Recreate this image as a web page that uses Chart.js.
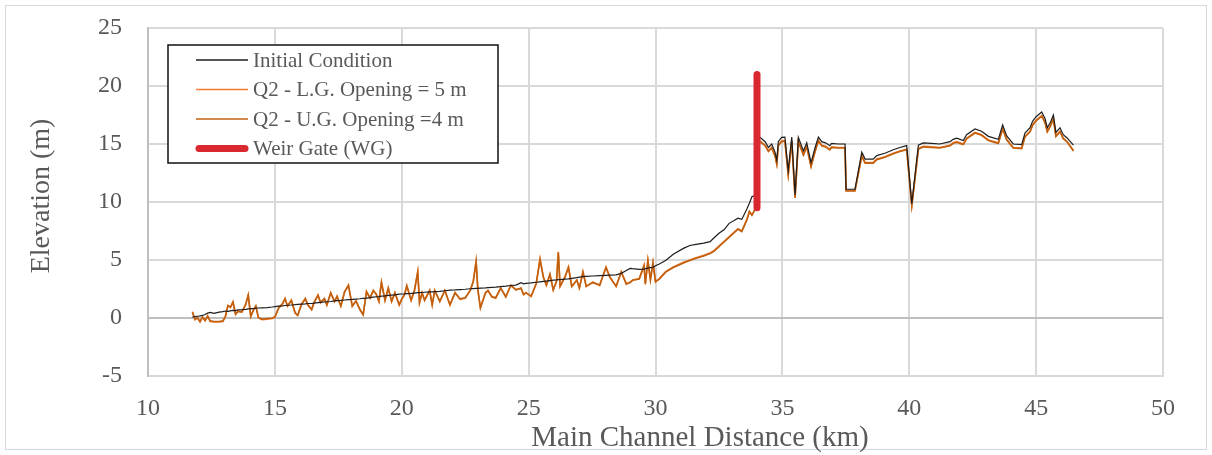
<!DOCTYPE html>
<html><head><meta charset="utf-8">
<script src="https://cdn.jsdelivr.net/npm/chart.js@4.4.1/dist/chart.umd.min.js"></script>
<style>html,body{margin:0;padding:0;background:#fff;} canvas{display:block;}</style>
</head><body>
<canvas id="c" width="1212" height="455"></canvas>
<script>
const distanceKm = [
11.75,11.85,11.95,12.05,12.15,12.25,12.35,12.45,12.6,12.8,
12.95,13.05,13.15,13.25,13.35,13.45,13.55,13.7,13.85,13.95,
14.05,14.15,14.25,14.35,14.5,14.7,14.9,15.0,15.15,15.3,
15.4,15.5,15.65,15.8,15.9,16.05,16.2,16.3,16.45,16.55,
16.7,16.8,16.95,17.05,17.2,17.35,17.45,17.6,17.75,17.9,
18.05,18.2,18.35,18.48,18.61,18.75,18.88,19.0,19.1,19.2,
19.34,19.47,19.6,19.73,19.9,20.0,20.1,20.2,20.37,20.5,
20.63,20.7,20.8,20.9,21.1,21.2,21.3,21.5,21.7,21.9,
22.1,22.3,22.5,22.7,22.82,22.93,23.0,23.1,23.3,23.4,
23.55,23.7,23.9,24.1,24.3,24.5,24.7,24.8,24.9,25.1,
25.3,25.45,25.58,25.7,25.84,25.97,26.1,26.17,26.24,26.43,
26.57,26.7,26.9,27.0,27.14,27.27,27.53,27.8,28.05,28.2,
28.45,28.65,28.85,29.0,29.1,29.36,29.55,29.6,29.7,29.8,
29.9,30.0,30.15,30.4,30.7,31.1,31.35,31.6,31.9,32.15,
32.3,32.5,32.7,32.9,33.1,33.25,33.4,33.6,33.7,33.8,
33.95,34.05,34.12,34.32,34.45,34.58,34.71,34.78,34.84,34.97,
35.1,35.23,35.37,35.5,35.63,35.83,35.96,36.13,36.29,36.42,
36.55,36.7,36.87,36.94,37.2,37.47,37.51,37.86,38.13,38.26,
38.58,38.72,39.04,39.37,39.63,39.9,40.1,40.36,40.55,40.88,
41.2,41.61,41.73,41.87,42.0,42.13,42.26,42.59,42.85,43.12,
43.51,43.68,43.84,44.1,44.43,44.56,44.76,44.86,45.0,45.22,
45.35,45.44,45.57,45.68,45.78,45.94,46.07,46.23,46.47];

const initialCondition = [
0.10,0.12,0.15,0.18,0.22,0.30,0.42,0.48,0.40,0.50,
0.55,0.60,0.58,0.62,0.66,0.64,0.70,0.72,0.75,0.78,
0.80,0.80,0.85,0.86,0.88,0.90,0.95,0.98,1.02,1.05,
1.08,1.10,1.12,1.15,1.18,1.20,1.22,1.25,1.25,1.28,
1.32,1.35,1.38,1.40,1.42,1.48,1.50,1.52,1.55,1.58,
1.60,1.63,1.66,1.70,1.72,1.75,1.80,1.83,1.85,1.88,
1.90,1.95,1.98,2.00,2.05,2.07,2.08,2.10,2.12,2.15,
2.18,2.18,2.20,2.22,2.25,2.26,2.28,2.30,2.35,2.40,
2.42,2.45,2.48,2.52,2.54,2.56,2.55,2.58,2.60,2.62,
2.64,2.66,2.70,2.74,2.80,2.84,3.05,2.95,2.98,3.02,
3.08,3.12,3.15,3.18,3.22,3.26,3.28,3.30,3.30,3.35,
3.38,3.42,3.48,3.52,3.56,3.58,3.62,3.65,3.68,3.70,
3.72,3.85,4.10,4.28,4.25,4.20,4.22,4.25,4.30,4.35,
4.37,4.50,4.65,4.95,5.50,6.00,6.25,6.35,6.45,6.58,
6.90,7.30,7.60,8.16,8.40,8.60,8.50,9.40,9.90,10.46,
10.60,15.40,15.57,15.20,14.70,15.00,14.30,13.60,15.20,15.57,
15.60,12.70,15.60,10.60,15.57,14.40,15.10,13.40,14.70,15.60,
15.20,15.10,14.85,15.05,15.00,15.00,11.10,11.10,14.30,13.70,
13.70,14.00,14.20,14.50,14.70,14.86,9.86,14.90,15.10,15.05,
15.00,15.20,15.40,15.50,15.40,15.30,15.80,16.30,16.10,15.66,
15.40,16.65,15.70,15.00,14.95,15.95,16.40,16.95,17.35,17.76,
17.20,16.40,16.90,17.50,16.00,16.40,15.80,15.50,14.90];

const q2LowerGate = [
0.55,-0.15,0.05,-0.35,0.10,-0.25,0.20,-0.30,-0.35,-0.35,
-0.30,0.10,1.10,0.90,1.40,0.30,0.60,0.50,1.20,2.00,
0.10,0.70,1.00,0.00,-0.15,-0.10,-0.05,0.05,0.90,1.20,
1.70,1.00,1.55,0.40,0.20,1.20,1.70,1.10,0.70,1.40,
2.00,1.30,1.70,1.10,2.20,1.40,1.90,1.00,2.30,2.85,
1.00,1.50,0.70,0.26,2.30,1.70,2.40,2.00,1.40,3.10,
1.50,2.60,1.40,2.20,1.10,1.60,2.00,2.80,1.50,2.40,
4.00,1.30,2.20,1.50,2.40,1.10,2.40,1.40,2.40,1.10,
2.20,1.60,1.70,2.40,3.20,4.90,2.40,0.85,2.20,2.40,
1.80,1.70,2.60,1.80,2.84,2.40,2.60,2.00,2.20,1.84,
3.00,5.10,3.56,2.80,3.80,2.40,3.20,5.70,2.70,3.56,
4.40,2.70,3.27,2.56,4.00,2.70,3.10,2.80,4.40,3.56,
2.70,4.00,2.90,3.10,3.27,3.40,4.57,2.90,5.00,3.27,
4.80,3.10,3.40,4.00,4.40,4.80,5.00,5.20,5.40,5.60,
5.80,6.20,6.60,7.00,7.40,7.70,7.50,8.50,9.20,8.90,
9.50,15.10,15.25,14.90,14.40,14.70,14.00,13.30,14.90,15.25,
15.30,12.40,15.30,10.40,15.25,14.10,14.80,13.10,14.40,15.30,
14.90,14.80,14.55,14.75,14.70,14.70,11.00,11.00,14.00,13.40,
13.40,13.70,13.90,14.20,14.40,14.55,9.70,14.60,14.80,14.75,
14.70,14.90,15.10,15.20,15.10,15.00,15.50,16.00,15.80,15.35,
15.10,16.35,15.40,14.70,14.65,15.65,16.10,16.65,17.05,17.45,
16.90,16.10,16.60,17.20,15.70,16.10,15.50,15.20,14.45];

const q2UpperGate = [
0.50,-0.10,0.00,-0.30,0.05,-0.20,0.15,-0.25,-0.30,-0.30,
-0.25,0.15,1.05,0.95,1.35,0.35,0.55,0.55,1.15,1.95,
0.15,0.65,1.05,0.05,-0.10,-0.05,0.00,0.10,0.85,1.25,
1.65,1.05,1.50,0.45,0.25,1.15,1.65,1.15,0.75,1.35,
1.95,1.35,1.65,1.15,2.15,1.45,1.85,1.05,2.25,2.80,
1.05,1.45,0.75,0.30,2.25,1.75,2.35,2.05,1.45,3.05,
1.55,2.55,1.45,2.15,1.15,1.65,1.95,2.75,1.55,2.35,
3.95,1.35,2.15,1.55,2.35,1.15,2.35,1.45,2.35,1.15,
2.15,1.65,1.75,2.35,3.15,4.85,2.45,0.90,2.15,2.35,
1.85,1.75,2.55,1.85,2.80,2.45,2.55,2.05,2.15,1.90,
2.95,5.05,3.50,2.85,3.75,2.45,3.15,5.65,2.75,3.50,
4.35,2.75,3.25,2.60,3.95,2.75,3.05,2.85,4.35,3.50,
2.75,3.95,2.95,3.05,3.25,3.35,4.50,2.95,4.95,3.30,
4.75,3.15,3.35,3.95,4.35,4.75,4.95,5.15,5.35,5.55,
5.75,6.15,6.55,6.95,7.35,7.65,7.45,8.45,9.15,8.85,
9.45,15.05,15.20,14.85,14.35,14.65,13.95,13.25,14.85,15.20,
15.25,12.35,15.25,10.35,15.20,14.05,14.75,13.05,14.35,15.25,
14.85,14.75,14.50,14.70,14.65,14.65,10.95,10.95,13.95,13.35,
13.35,13.65,13.85,14.15,14.35,14.50,9.65,14.55,14.75,14.70,
14.65,14.85,15.05,15.15,15.05,14.95,15.45,15.95,15.75,15.30,
15.05,16.30,15.35,14.65,14.60,15.60,16.05,16.60,17.00,17.40,
16.85,16.05,16.55,17.15,15.65,16.05,15.45,15.15,14.40];

const weirGateKm = [34.0, 34.0];
const weirGateElev = [9.5, 21.0];

const xTickValues = [10, 15, 20, 25, 30, 35, 40, 45, 50];
const yTickValues = [-5, 0, 5, 10, 15, 20, 25];

const xAxisTitle = 'Main Channel Distance (km)';
const yAxisTitle = 'Elevation (m)';
const seriesLabels = ['Initial Condition', 'Q2 - L.G. Opening = 5 m', 'Q2 - U.G. Opening =4 m', 'Weir Gate (WG)'];
const seriesColors = ['#1e1e1e', '#ED7D31', '#C0600F', '#D9282F'];
const seriesWidths = [1.2, 1.6, 1.6, 7];

const pts = (xs, ys) => xs.map((x, i) => ({x: x, y: ys[i]}));

const FONT = "'Liberation Serif', 'Times New Roman', serif";
const TEXT = '#595959';

const frame = {
  id: 'frame',
  beforeDraw(chart) {
    const ctx = chart.ctx;
    ctx.save();
    ctx.fillStyle = '#fff';
    ctx.fillRect(0, 0, chart.width, chart.height);
    ctx.strokeStyle = '#d9d9d9';
    ctx.lineWidth = 1;
    ctx.strokeRect(5.5, 5.5, chart.width - 11, chart.height - 11);
    ctx.restore();
  }
};

const axisTitles = {
  id: 'axisTitles',
  afterDraw(chart) {
    const ctx = chart.ctx;
    const a = chart.chartArea;
    ctx.save();
    ctx.fillStyle = TEXT;
    ctx.font = '29px ' + FONT;
    ctx.textAlign = 'center';
    ctx.textBaseline = 'middle';
    ctx.fillText(xAxisTitle, a.left + 552, 438);
    ctx.translate(42, a.top + 168);
    ctx.rotate(-Math.PI / 2);
    ctx.font = '28px ' + FONT;
    ctx.fillText(yAxisTitle, 0, 0);
    ctx.restore();
  }
};

const boxLegend = {
  id: 'boxLegend',
  afterDraw(chart) {
    const ctx = chart.ctx;
    const a = chart.chartArea;
    const bx = a.left + 20, by = a.top + 17, bw = 330, bh = 118;
    ctx.save();
    ctx.fillStyle = '#fff';
    ctx.fillRect(bx, by, bw, bh);
    ctx.strokeStyle = '#111';
    ctx.lineWidth = 1.5;
    ctx.strokeRect(bx, by, bw, bh);
    ctx.font = '21px ' + FONT;
    ctx.textBaseline = 'middle';
    ctx.textAlign = 'left';
    chart.data.datasets.forEach((ds, i) => {
      const y = by + 15 + i * 29.5;
      ctx.beginPath();
      ctx.strokeStyle = ds.borderColor;
      ctx.lineWidth = i === 3 ? 7 : 1.5;
      ctx.lineCap = i === 3 ? 'round' : 'butt';
      ctx.moveTo(bx + (i === 3 ? 31 : 28), y);
      ctx.lineTo(bx + (i === 3 ? 77 : 80), y);
      ctx.stroke();
      ctx.fillStyle = TEXT;
      ctx.fillText(ds.label, bx + 85, y + 1);
    });
    ctx.restore();
  }
};

new Chart(document.getElementById('c'), {
  type: 'line',
  data: {
    datasets: [
      {label: seriesLabels[0], data: pts(distanceKm, initialCondition), borderColor: seriesColors[0], borderWidth: seriesWidths[0], pointRadius: 0, order: 1},
      {label: seriesLabels[1], data: pts(distanceKm, q2LowerGate), borderColor: seriesColors[1], borderWidth: seriesWidths[1], pointRadius: 0, order: 3},
      {label: seriesLabels[2], data: pts(distanceKm, q2UpperGate), borderColor: seriesColors[2], borderWidth: seriesWidths[2], pointRadius: 0, order: 2},
      {label: seriesLabels[3], data: pts(weirGateKm, weirGateElev), borderColor: seriesColors[3], borderWidth: seriesWidths[3], borderCapStyle: 'round', pointRadius: 0, order: 0}
    ]
  },
  options: {
    responsive: false,
    animation: false,
    devicePixelRatio: 1,
    layout: {autoPadding: false, padding: {left: 0, right: 49, top: 28, bottom: 0}},
    plugins: {legend: {display: false}, tooltip: {enabled: false}},
    scales: {
      x: {
        type: 'linear', min: 10, max: 50,
        afterBuildTicks: s => { s.ticks = xTickValues.map(v => ({value: v})); },
        afterFit: s => { s.height = 79; s.paddingLeft = 0; s.paddingRight = 0; },
        ticks: {font: {family: FONT, size: 24}, color: TEXT, padding: 18, maxRotation: 0, autoSkip: false},
        grid: {color: '#d9d9d9', lineWidth: 2, drawTicks: false},
        border: {display: true, color: '#d9d9d9', width: 2},
        title: {display: false}
      },
      y: {
        type: 'linear', min: -5, max: 25,
        afterBuildTicks: s => { s.ticks = yTickValues.map(v => ({value: v})); },
        afterFit: s => { s.width = 148; s.paddingTop = 0; s.paddingBottom = 0; },
        ticks: {font: {family: FONT, size: 24}, color: TEXT, padding: 26},
        grid: {color: c => (c.tick && c.tick.value === 0 ? '#bfbfbf' : '#d9d9d9'), lineWidth: 2, drawTicks: false},
        border: {display: true, color: '#bfbfbf', width: 2},
        title: {display: false}
      }
    }
  },
  plugins: [frame, axisTitles, boxLegend]
});
</script>
</body></html>
